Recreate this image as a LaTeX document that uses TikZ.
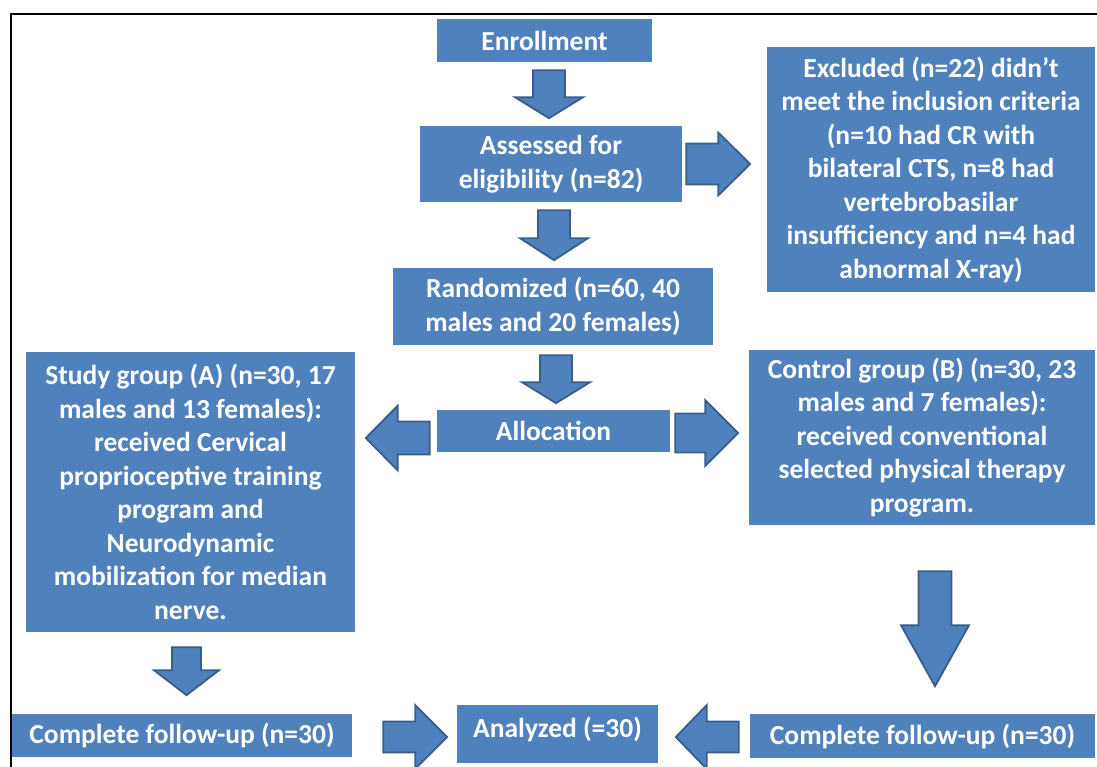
\documentclass[tikz,border=0pt]{standalone}
\usepackage{fontspec}
\setmainfont{Carlito}
\usepackage{xcolor}
\usetikzlibrary{positioning, calc}

\definecolor{boxblue}{HTML}{4F81BD}
\definecolor{edgeblue}{HTML}{385D8A}

% block arrow: start, angle, length, shaft width, head width, head length
\newcommand{\blockarrow}[6]{%
  \draw[barrow, shift={#1}, rotate=#2] (0,{-#4/2}) -- ({#3-#6},{-#4/2}) -- ({#3-#6},{-#5/2})
    -- (#3,0) -- ({#3-#6},{#5/2}) -- ({#3-#6},{#4/2}) -- (0,{#4/2}) -- cycle;}

\begin{document}
\begin{tikzpicture}[
    x=1pt, y=-1pt,
    block/.style={rectangle, fill=boxblue, text=white, align=center, inner sep=0pt,
      font=\fontsize{27.5}{33.5}\selectfont\bfseries},
    barrow/.style={fill=boxblue, draw=edgeblue, line width=1.8pt, line join=miter}
]
\useasboundingbox (0,0) rectangle (1097,767);
\clip (0,0) rectangle (1097,767);
\draw[line width=2.5pt] (11,14) rectangle (1130,800);

% Screening
\node[block, minimum width=215pt, minimum height=43pt] (enroll) at (544.5,40.5) {Enrollment};
\node[block, minimum width=262pt, minimum height=76pt] (assess) at (551,164) {Assessed for\\eligibility (n=82)};
\node[block, minimum width=328pt, minimum height=245pt] (excluded) at (931,169.5) {Excluded (n=22) didn’t\\meet the inclusion criteria\\(n=10 had CR with\\bilateral CTS, n=8 had\\vertebrobasilar\\insufficiency and n=4 had\\abnormal X-ray)};
\node[block, minimum width=320pt, minimum height=77pt] (random) at (553,306.5) {Randomized (n=60, 40\\males and 20 females)};

% Allocation
\node[block, minimum width=233pt, minimum height=42pt] (alloc) at (553.5,431) {Allocation};
\node[block, minimum width=329pt, minimum height=280pt] (groupA) at (190.5,492) {Study group (A) (n=30, 17\\males and 13 females):\\received Cervical\\proprioceptive training\\program and\\Neurodynamic\\mobilization for median\\nerve.};
\node[block, minimum width=346pt, minimum height=175pt] (groupB) at (922,437.5) {Control group (B) (n=30, 23\\males and 7 females):\\received conventional\\selected physical therapy\\program.};

% Follow-up and analysis
\node[block, minimum width=340pt, minimum height=43pt] (followA) at (182,735.5) {Complete follow-up (n=30)};
\node[block, minimum width=201pt, minimum height=58pt, text depth=14pt] (analyzed) at (557.5,734) {Analyzed (=30)};
\node[block, minimum width=345pt, minimum height=44pt] (followB) at (922.5,736) {Complete follow-up (n=30)};

% Arrows
\blockarrow{($(enroll.south)+(4.5,8)$)}{-90}{48}{32}{68}{21}
\blockarrow{($(assess.east)+(4,0)$)}{0}{64}{41}{63}{32}
\blockarrow{($(assess.south)+(3,8)$)}{-90}{50}{32}{68}{22}
\blockarrow{($(random.south)+(3,10)$)}{-90}{48}{32}{68}{21}
\blockarrow{($(alloc.west)+(-7,7)$)}{180}{64}{33}{65}{32}
\blockarrow{($(alloc.east)+(5,2)$)}{0}{63}{39}{66}{33}
\blockarrow{($(groupA.south)+(-4,15)$)}{-90}{48}{29}{65}{25}
\blockarrow{($(groupB.south)+(13,46)$)}{-90}{115}{33}{68}{61}
\blockarrow{($(followA.east)+(31,1.5)$)}{0}{64}{31}{64}{32}
\blockarrow{($(followB.west)+(-11,1)$)}{180}{63}{31}{64}{31}

\end{tikzpicture}
\end{document}
